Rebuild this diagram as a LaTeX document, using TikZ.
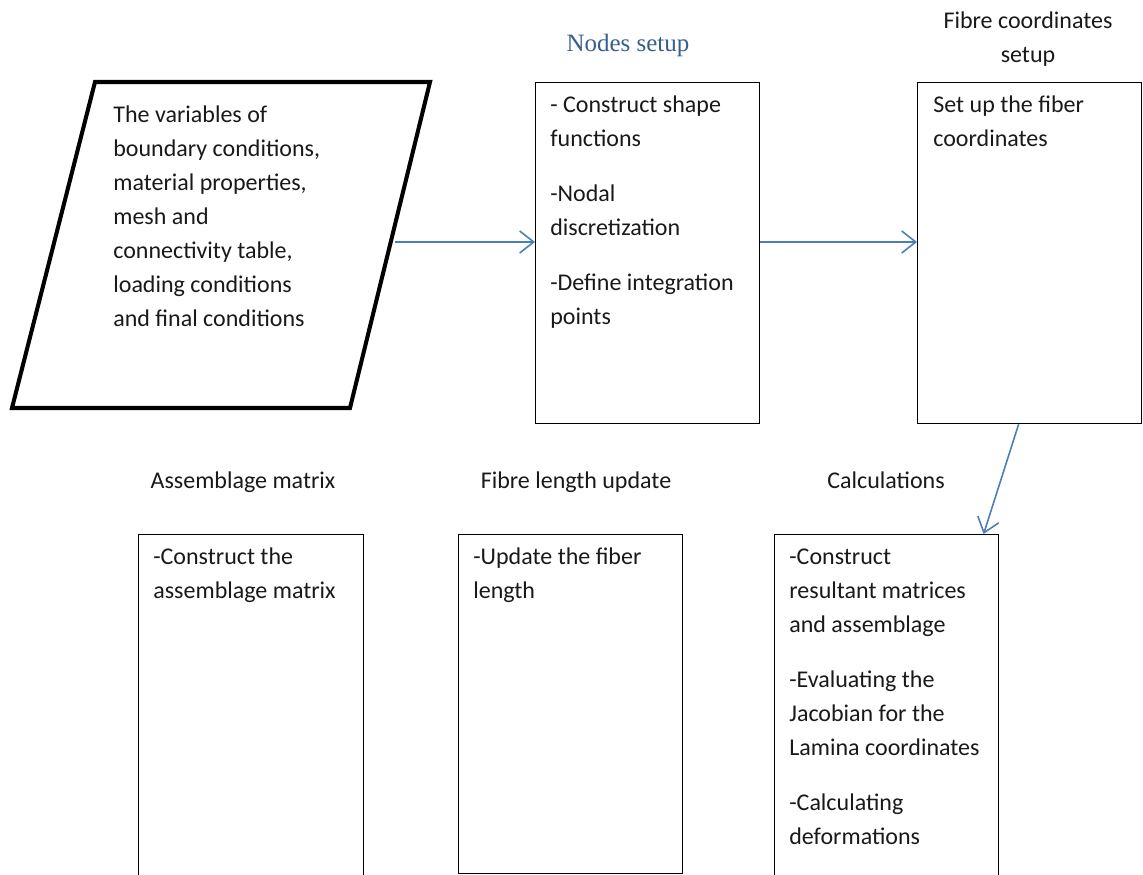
\documentclass[tikz,border=0pt]{standalone}
\usepackage{fontspec}
\setmainfont{Carlito}
\newfontfamily\headfont{Liberation Serif}
\usetikzlibrary{arrows.meta}
\definecolor{arrowblue}{RGB}{74,126,187}
\definecolor{headblue}{RGB}{54,95,145}
\definecolor{inktext}{RGB}{25,25,25}
\newcommand{\bodysize}{\fontsize{13.66pt}{19.35pt}\selectfont}

\begin{document}
\begin{tikzpicture}
  [box/.style={draw, line width=0.7pt, anchor=north west, inner sep=0pt, minimum width=4.48cm},
   txt/.style={anchor=north west, inner sep=0pt, align=left, text=inktext, font=\bodysize},
   title/.style={inner sep=0pt, align=center, text=inktext, font=\bodysize},
   flow/.style={draw=arrowblue, line width=0.9pt, -{Straight Barb[length=0.28cm,width=0.44cm]}}]
  \clip (0,0) rectangle (22.86,-17.5);

  % input data
  \draw[line width=2.3pt] (1.9,-1.64) -- (8.6,-1.64) -- (7.0,-8.16) -- (0.24,-8.16) -- cycle;
  \coordinate (in) at (7.9,-4.84);
  \node[txt] (intxt) at (2.26,-1.96) {\strut The variables of\\ boundary conditions,\\ material properties,\\ mesh and\\ connectivity table,\\ loading conditions\\ and final conditions};

  % boxes
  \node[box, minimum height=6.82cm] (nodes) at (10.7,-1.64) {};
  \node[box, minimum height=6.82cm] (fibre) at (18.34,-1.64) {};
  \node[box, minimum height=8cm] (calc) at (15.48,-10.68) {};
  \node[box, minimum height=6.78cm] (length) at (9.16,-10.68) {};
  \node[box, minimum height=8cm, minimum width=4.5cm] (assem) at (2.76,-10.68) {};

  % titles
  \node[title, anchor=base, font=\headfont\fontsize{14.2pt}{18pt}\selectfont, text=headblue] (t1) at (12.56,-1.04) {Nodes setup};
  \node[title, anchor=north] (t2) at (20.56,-0.084) {\strut Fibre coordinates\\ setup};
  \node[title, anchor=base] (t3) at (17.72,-9.76) {Calculations};
  \node[title, anchor=base] (t4) at (11.52,-9.76) {Fibre length update};
  \node[title, anchor=base] (t5) at (4.86,-9.76) {Assemblage matrix};

  % box texts
  \node[txt] (x1) at ([shift={(0.3,-0.12)}]nodes.north west) {\strut- Construct shape\\ functions\\[0.42cm] -Nodal\\ discretization\\[0.42cm] -Define integration\\ points};
  \node[txt] (x2) at ([shift={(0.32,-0.12)}]fibre.north west) {\strut Set up the fiber\\ coordinates};
  \node[txt] (x3) at ([shift={(0.3,-0.12)}]calc.north west) {\strut -Construct\\ resultant matrices\\ and assemblage\\[0.42cm] -Evaluating the\\ Jacobian for the\\ Lamina coordinates\\[0.42cm] -Calculating\\ deformations};
  \node[txt] (x4) at ([shift={(0.3,-0.12)}]length.north west) {\strut -Update the fiber\\ length};
  \node[txt] (x5) at ([shift={(0.3,-0.12)}]assem.north west) {\strut -Construct the\\ assemblage matrix};

  % flow
  \path[flow]
        (in) edge (nodes.west |- in)
        (nodes.east |- in) edge (fibre.west |- in)
        ([xshift=-0.22cm]fibre.south) edge ([xshift=1.94cm]calc.north)
        ([yshift=-3.88cm]calc.west) edge ([yshift=-3.88cm]length.east)
        ([yshift=-3.88cm]length.west) edge ([yshift=-3.88cm]assem.east);
\end{tikzpicture}
\end{document}
